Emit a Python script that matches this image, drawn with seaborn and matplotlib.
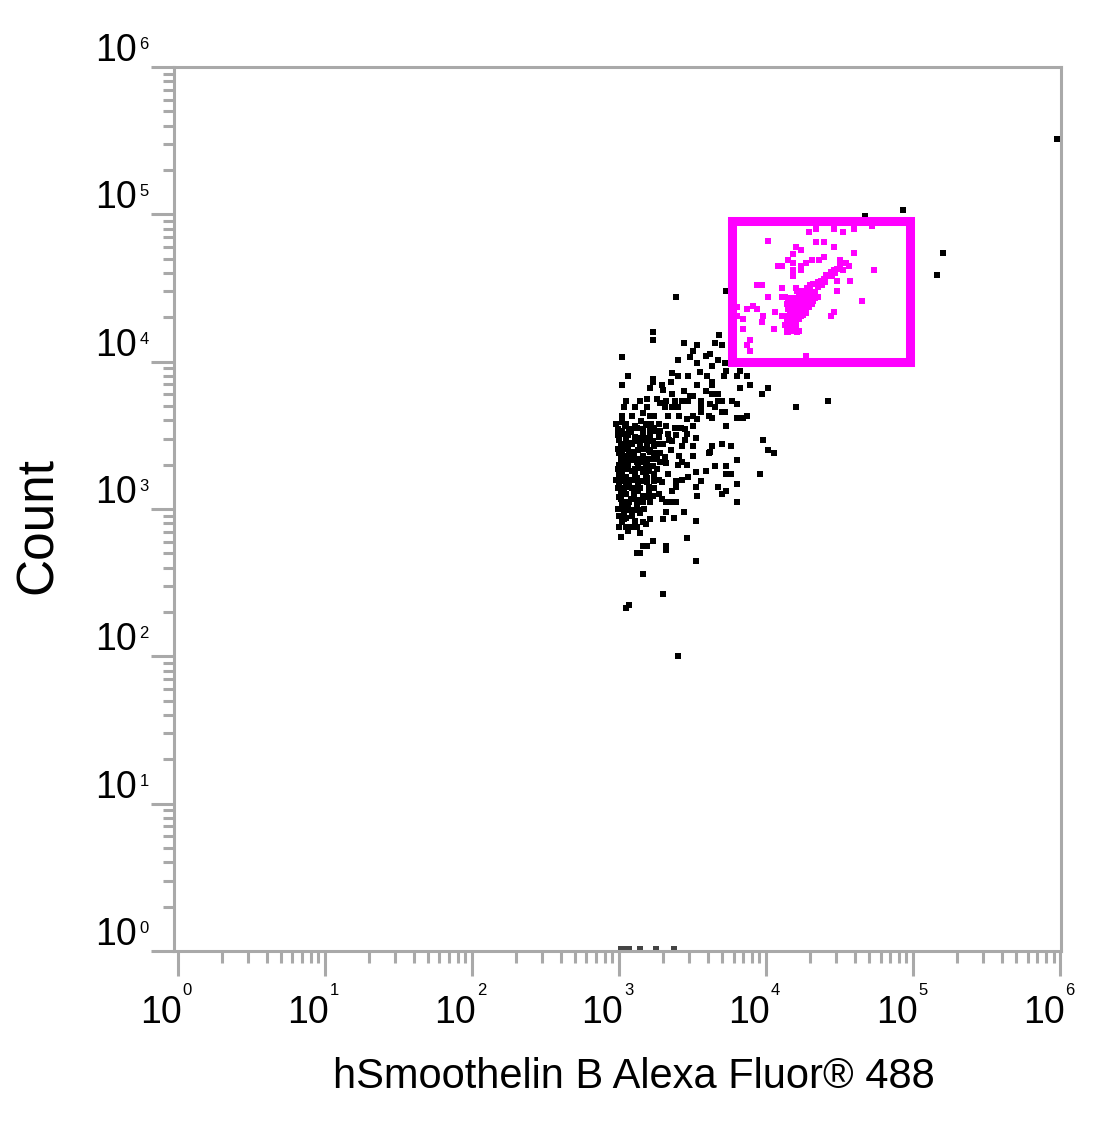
import numpy as np
import pandas as pd
import matplotlib
matplotlib.use("Agg")
import matplotlib.pyplot as plt
from matplotlib.patches import Rectangle
from matplotlib.ticker import LogLocator, NullFormatter
import seaborn as sns

# events as (log10 fluorescence, log10 count)
black_events = [
    # sparse top of the population
    (3.23, 4.20), (3.23, 4.15), (3.68, 4.18), (3.44, 4.13), (3.53, 4.11), (3.50, 4.07),
    (3.65, 4.13), (3.70, 4.11), (3.02, 4.03), (3.40, 4.01), (3.48, 4.03), (3.53, 3.99),
    (3.55, 3.93), (3.62, 4.05), (3.67, 4.01), (3.59, 4.04), (3.63, 3.97), (3.72, 3.99),
    (3.82, 3.94), (3.73, 3.94), (3.06, 3.90), (3.23, 3.88), (3.23, 3.86), (3.36, 3.92),
    (3.35, 3.86), (3.40, 3.90), (3.47, 3.90), (3.60, 3.90), (3.63, 3.86), (3.71, 3.90),
    (3.80, 3.90), (3.87, 3.90), (3.02, 3.84), (3.21, 3.82), (3.29, 3.84), (3.30, 3.81),
    (3.36, 3.78), (3.44, 3.80), (3.53, 3.84), (3.59, 3.80), (3.63, 3.84), (3.82, 3.82),
    (3.89, 3.84), (4.01, 3.82), (3.97, 3.78), (3.63, 3.78), (3.67, 3.78), (3.48, 3.77),
    (3.47, 3.73),
    # upper body
    (3.05, 3.73), (3.14, 3.73), (3.19, 3.75), (3.26, 3.75), (3.28, 3.72), (3.32, 3.73),
    (3.38, 3.73), (3.43, 3.73), (3.50, 3.77), (3.56, 3.73), (3.56, 3.69), (3.62, 3.71),
    (3.67, 3.73), (3.70, 3.73), (3.77, 3.73), (3.80, 3.71), (3.65, 3.69), (3.03, 3.69),
    (3.11, 3.69), (3.19, 3.69), (3.31, 3.69), (3.36, 3.69), (3.40, 3.69), (4.20, 3.69),
    (3.56, 3.66), (3.70, 3.66), (3.72, 3.66), (3.61, 3.63), (3.63, 3.62), (3.80, 3.62),
    (3.84, 3.62), (3.87, 3.63), (3.02, 3.63), (3.09, 3.63), (3.16, 3.65), (3.21, 3.63),
    (3.24, 3.63), (3.33, 3.63), (3.41, 3.63), (3.50, 3.63), (3.46, 3.61), (3.53, 3.61),
    (3.02, 3.59), (3.04, 3.56), (3.11, 3.56), (3.18, 3.58), (3.22, 3.58), (3.24, 3.55),
    (3.27, 3.58), (3.32, 3.56), (3.38, 3.55), (3.45, 3.54), (3.50, 3.56), (3.73, 3.56),
    (3.21, 3.54), (3.28, 3.53),
    # dense core
    (2.99, 3.50), (3.03, 3.51), (3.06, 3.50), (3.11, 3.49), (3.16, 3.51), (3.21, 3.50),
    (3.27, 3.49), (3.33, 3.51), (3.39, 3.50), (3.46, 3.51), (3.52, 3.48), (3.98, 3.47),
    (3.01, 3.44), (3.04, 3.43), (3.09, 3.44), (3.14, 3.44), (3.19, 3.44), (3.24, 3.43),
    (3.30, 3.44), (3.36, 3.46), (3.43, 3.43), (3.50, 3.43), (3.63, 3.43), (3.70, 3.44),
    (3.76, 3.43), (4.01, 3.40), (4.05, 3.38), (3.61, 3.38), (3.01, 3.36), (3.05, 3.34),
    (3.10, 3.36), (3.16, 3.36), (3.22, 3.34), (3.26, 3.34), (3.31, 3.35), (3.41, 3.36),
    (3.43, 3.32), (3.46, 3.30), (3.50, 3.36), (3.62, 3.39), (3.80, 3.33), (3.01, 3.32),
    (3.05, 3.31), (3.12, 3.32), (3.19, 3.31), (3.28, 3.32), (3.32, 3.31), (3.65, 3.29),
    (3.73, 3.29), (3.02, 3.25), (3.06, 3.27), (3.11, 3.24), (3.16, 3.25), (3.20, 3.26),
    (3.24, 3.24), (3.52, 3.25), (3.47, 3.22), (3.59, 3.26), (3.73, 3.24), (3.76, 3.24),
    (3.96, 3.24), (3.03, 3.19), (3.07, 3.18), (3.12, 3.20), (3.19, 3.18), (3.24, 3.19),
    (3.29, 3.18), (3.39, 3.19), (3.43, 3.20), (3.56, 3.19), (3.80, 3.17), (3.05, 3.15),
    (3.13, 3.16), (3.39, 3.15), (3.52, 3.15), (3.67, 3.15), (3.01, 3.14), (3.10, 3.12),
    (3.14, 3.14), (3.20, 3.12), (3.27, 3.10), (3.73, 3.12), (3.70, 3.10), (3.53, 3.09),
    (3.01, 3.10), (3.01, 3.07), (3.04, 3.05), (3.07, 3.05), (3.12, 3.03), (3.16, 3.05),
    (3.21, 3.05), (3.29, 3.07), (3.32, 3.05), (3.36, 3.05), (3.39, 3.05), (3.80, 3.05),
    (2.99, 3.54), (2.99, 3.41), (2.99, 3.27), (2.99, 3.14), (3.07, 3.54), (3.07, 3.37),
    (3.14, 3.48), (3.11, 3.27), (3.18, 3.22), (3.04, 3.03), (3.10, 3.09), (2.99, 3.00),
    (3.21, 3.39), (3.18, 3.29), (3.24, 3.14), (2.98, 3.20), (3.16, 3.54),
    (2.98, 3.58), (3.00, 3.47), (3.00, 3.38), (3.00, 3.30), (3.00, 3.23), (3.00, 3.17),
    (3.00, 3.08), (3.00, 2.95), (3.00, 2.88), (3.02, 3.53), (3.02, 3.40), (3.03, 3.34),
    (3.03, 3.28), (3.02, 3.21), (3.03, 3.12), (3.02, 3.04), (3.03, 2.93), (3.05, 3.58),
    (3.05, 3.47), (3.06, 3.41), (3.05, 3.36), (3.06, 3.29), (3.05, 3.22), (3.06, 3.17),
    (3.05, 3.10), (3.06, 3.01), (3.05, 2.94), (3.08, 3.52), (3.08, 3.45), (3.09, 3.39),
    (3.08, 3.33), (3.09, 3.26), (3.08, 3.20), (3.09, 3.14), (3.08, 3.07), (3.09, 2.99),
    (3.12, 3.55), (3.12, 3.46), (3.13, 3.40), (3.12, 3.34), (3.13, 3.28), (3.12, 3.21),
    (3.13, 3.12), (3.12, 3.06), (3.11, 2.92), (3.15, 3.60), (3.15, 3.47), (3.16, 3.41),
    (3.15, 3.32), (3.16, 3.27), (3.15, 3.19), (3.16, 3.09), (3.17, 3.00), (3.19, 3.57),
    (3.19, 3.48), (3.20, 3.40), (3.19, 3.34), (3.20, 3.28), (3.19, 3.21), (3.20, 3.15),
    (3.19, 3.08), (3.23, 3.53), (3.23, 3.46), (3.24, 3.38), (3.23, 3.29), (3.24, 3.22),
    (3.23, 3.09), (3.27, 3.52), (3.27, 3.44), (3.28, 3.38), (3.26, 3.27), (3.27, 3.20),
    (3.34, 3.47), (3.35, 3.40), (3.33, 3.24), (3.36, 3.12), (3.42, 3.55), (3.45, 3.47),
    (3.40, 3.30),
    # lower tail
    (3.03, 2.97), (3.05, 2.99), (3.09, 2.95), (3.13, 2.99), (3.14, 2.97), (3.21, 2.93),
    (3.30, 2.93), (3.32, 2.98), (3.37, 2.94), (3.44, 2.98), (3.52, 2.92), (3.02, 3.01),
    (3.02, 2.91), (3.05, 2.88), (3.09, 2.88), (3.12, 2.88), (3.16, 2.91), (3.18, 2.90),
    (3.14, 2.84), (3.06, 2.85), (3.01, 2.81), (3.46, 2.80), (3.23, 2.78), (3.16, 2.75),
    (3.19, 2.75), (3.32, 2.75), (3.32, 2.72), (3.12, 2.70), (3.14, 2.70), (3.52, 2.65),
    (3.16, 2.56), (3.30, 2.42), (3.05, 2.33), (3.07, 2.35), (3.40, 2.00),
    # stray events
    (3.39, 4.44), (3.73, 4.48), (4.67, 4.99), (4.93, 5.03), (5.20, 4.74), (5.16, 4.59),
    (5.98, 5.51), (4.42, 3.73),
]

# events piled on the bottom edge, mostly hidden by the axis line
edge_events = [
    (3.01, 0.015), (3.04, 0.015), (3.07, 0.015), (3.14, 0.015), (3.25, 0.015), (3.37, 0.015),
]

gated_events = [
    (4.29, 4.88), (4.34, 4.90), (4.46, 4.90), (4.52, 4.88), (4.60, 4.90), (4.72, 4.92),
    (4.01, 4.82), (4.20, 4.78), (4.34, 4.81), (4.39, 4.81), (4.46, 4.78), (4.18, 4.73),
    (4.24, 4.76), (4.60, 4.74), (4.15, 4.69), (4.18, 4.67), (4.31, 4.69), (4.36, 4.69),
    (4.39, 4.71), (4.50, 4.69), (4.08, 4.65), (4.11, 4.65), (4.18, 4.62), (4.24, 4.65),
    (4.24, 4.62), (4.27, 4.67),
    # diagonal streak
    (4.54, 4.67), (4.56, 4.65), (4.50, 4.65), (4.48, 4.63), (4.46, 4.62), (4.44, 4.61),
    (4.41, 4.59), (4.39, 4.56), (4.37, 4.55), (4.35, 4.54), (4.32, 4.53), (4.30, 4.52),
    (4.52, 4.62), (4.47, 4.60), (4.45, 4.58), (4.40, 4.54), (4.38, 4.52), (4.35, 4.51),
    (4.57, 4.55), (4.48, 4.55), (4.42, 4.58), (4.73, 4.62), (4.18, 4.58),
    # scattered around the main cluster
    (3.94, 4.52), (3.97, 4.52), (4.11, 4.50), (4.20, 4.50), (4.48, 4.48), (4.01, 4.44),
    (4.11, 4.44), (4.13, 4.44), (4.22, 4.45), (4.24, 4.43), (4.29, 4.43), (4.31, 4.45),
    (4.33, 4.43), (4.35, 4.44), (4.32, 4.41), (4.65, 4.41), (3.91, 4.38), (3.94, 4.36),
    (3.87, 4.36), (3.80, 4.37), (3.98, 4.31), (4.11, 4.31), (4.06, 4.34), (4.46, 4.34),
    (4.44, 4.31), (3.80, 4.31), (3.84, 4.29), (3.97, 4.27), (4.05, 4.22), (3.84, 4.22),
    (3.89, 4.15), (3.87, 4.11), (3.89, 4.07), (4.27, 4.04), (4.21, 4.20), (4.15, 4.20),
    # main cluster
    (4.16, 4.43), (4.20, 4.43), (4.23, 4.41), (4.27, 4.41), (4.14, 4.39), (4.17, 4.39),
    (4.20, 4.39), (4.24, 4.39), (4.27, 4.39), (4.31, 4.39), (4.15, 4.36), (4.18, 4.36),
    (4.22, 4.36), (4.25, 4.36), (4.29, 4.37), (4.16, 4.33), (4.20, 4.33), (4.23, 4.33),
    (4.27, 4.33), (4.14, 4.31), (4.18, 4.31), (4.21, 4.31), (4.24, 4.31), (4.14, 4.28),
    (4.17, 4.28), (4.20, 4.28), (4.13, 4.25), (4.16, 4.25), (4.20, 4.24), (4.15, 4.22),
    (4.18, 4.22), (4.22, 4.21), (4.14, 4.20), (4.21, 4.48), (4.24, 4.48), (4.27, 4.46),
    (4.15, 4.41), (4.18, 4.41), (4.22, 4.42), (4.25, 4.42), (4.29, 4.40), (4.16, 4.37),
    (4.19, 4.35), (4.23, 4.37), (4.26, 4.35), (4.17, 4.32), (4.21, 4.33), (4.25, 4.32),
    (4.15, 4.30), (4.19, 4.29), (4.22, 4.29), (4.15, 4.27), (4.18, 4.26), (4.14, 4.23),
    (4.17, 4.24), (4.19, 4.23), (4.16, 4.21), (4.20, 4.21), (4.30, 4.42), (4.28, 4.44),
    (4.26, 4.47), (4.23, 4.46), (4.33, 4.47), (4.30, 4.49), (4.28, 4.50),
]

gate_x = (5900, 95000)
gate_y = (10000, 90000)
decades = [0, 1, 2, 3, 4, 5, 6]
x_label = "hSmoothelin B Alexa Fluor® 488"
y_label = "Count"

black = pd.DataFrame(black_events, columns=["fl", "count"]).rpow(10)
edge = pd.DataFrame(edge_events, columns=["fl", "count"]).rpow(10)
gated = pd.DataFrame(gated_events, columns=["fl", "count"]).rpow(10)

sns.set_style("white")
plt.rcParams["font.family"] = ["Liberation Sans", "DejaVu Sans"]
plt.rcParams["text.color"] = "black"

axis_grey = "#a9a9a9"
magenta = "#ff00ff"
dot_size = 14

fig = plt.figure(figsize=(11.03, 11.31), dpi=100)
ax = fig.add_axes([174 / 1103, 180 / 1131, 887 / 1103, 884 / 1131])

sns.scatterplot(data=edge, x="fl", y="count", color="#444444", marker="s",
                s=dot_size, linewidth=0, ax=ax, zorder=1, clip_on=False)
sns.scatterplot(data=black, x="fl", y="count", color="black", marker="s",
                s=dot_size, linewidth=0, ax=ax, zorder=3)
sns.scatterplot(data=gated, x="fl", y="count", color=magenta, marker="s",
                s=dot_size, linewidth=0, ax=ax, zorder=4)

ax.add_patch(Rectangle((gate_x[0], gate_y[0]), gate_x[1] - gate_x[0],
                       gate_y[1] - gate_y[0], fill=False, edgecolor=magenta,
                       linewidth=6.5, joinstyle="miter", zorder=5))

ax.set_xscale("log")
ax.set_yscale("log")
ax.set_xlim(10 ** -0.027, 10 ** 6.005)
ax.set_ylim(1, 10 ** 6)
ax.set_xlabel("")
ax.set_ylabel("")

for axis in (ax.xaxis, ax.yaxis):
    axis.set_major_locator(LogLocator(base=10, numticks=10))
    axis.set_minor_locator(LogLocator(base=10, subs=np.arange(2, 10), numticks=100))
    axis.set_major_formatter(NullFormatter())
    axis.set_minor_formatter(NullFormatter())

ax.tick_params(axis="x", which="major", direction="out", length=18, width=2.2,
               color=axis_grey, bottom=True, top=False)
ax.tick_params(axis="x", which="minor", direction="out", length=8.5, width=2.2,
               color=axis_grey, bottom=True, top=False)
ax.tick_params(axis="y", which="major", direction="out", length=16.5, width=2.2,
               color=axis_grey, left=True, right=False)
ax.tick_params(axis="y", which="minor", direction="out", length=8, width=2.2,
               color=axis_grey, left=True, right=False)

for side in ["left", "right", "top", "bottom"]:
    ax.spines[side].set_visible(True)
    ax.spines[side].set_color(axis_grey)
    ax.spines[side].set_linewidth(2.2)
    ax.spines[side].set_zorder(2.5)

# decade labels: "10" with a small raised exponent
for k in decades:
    ax.annotate("10", xy=(10 ** k, 0), xycoords=("data", "axes fraction"),
                xytext=(3, -52), textcoords="offset points",
                ha="right", va="baseline", fontsize=27)
    ax.annotate(str(k), xy=(10 ** k, 0), xycoords=("data", "axes fraction"),
                xytext=(3.5, -31.5), textcoords="offset points",
                ha="left", va="baseline", fontsize=12)
    ax.annotate("10", xy=(0, 10 ** k), xycoords=("axes fraction", "data"),
                xytext=(-27, 4.3), textcoords="offset points",
                ha="right", va="baseline", fontsize=27)
    ax.annotate(str(k), xy=(0, 10 ** k), xycoords=("axes fraction", "data"),
                xytext=(-25, 13), textcoords="offset points",
                ha="left", va="baseline", fontsize=12)

fig.text(634 / 1103, 1 - 1088 / 1131, x_label, ha="center", va="baseline", fontsize=30)
fig.text(38 / 1103, 1 - 525 / 1131, y_label, ha="center", va="center",
         rotation=90, fontsize=37)

fig.savefig("out.png", dpi=100)
